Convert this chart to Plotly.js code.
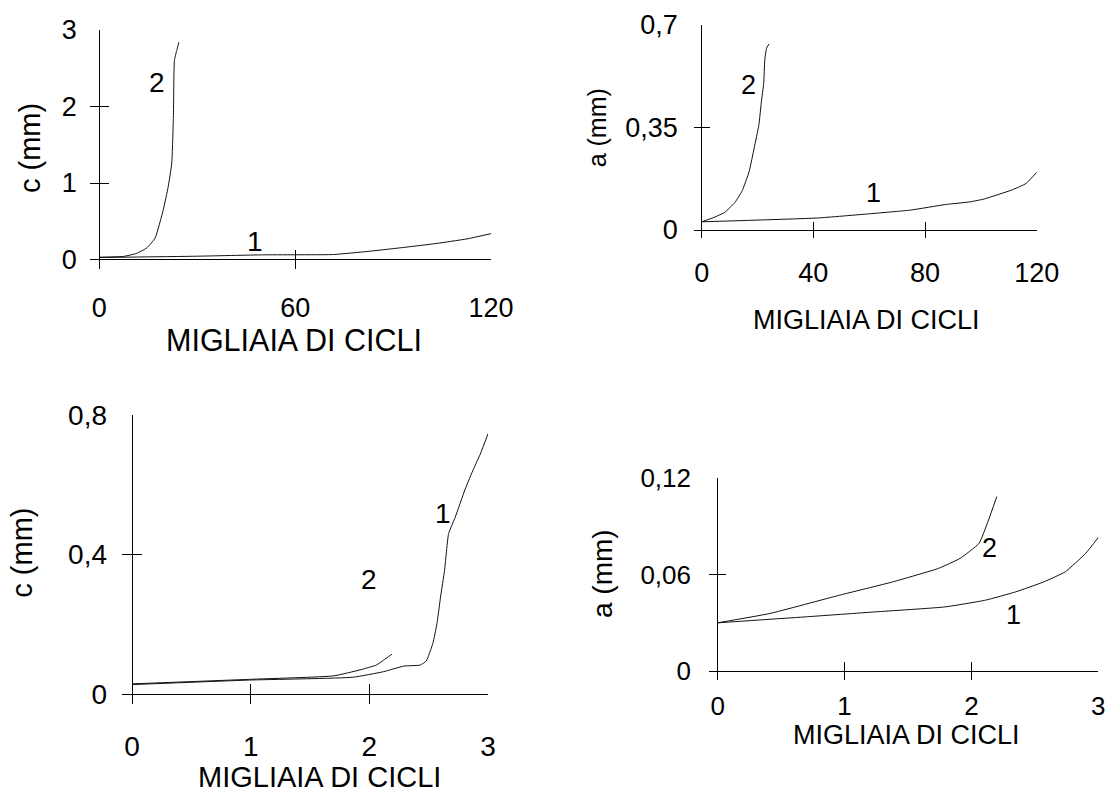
<!DOCTYPE html>
<html>
<head>
<meta charset="utf-8">
<script src="https://cdn.plot.ly/plotly-3.0.1.min.js"></script>
<style>
  html, body { margin: 0; padding: 0; background: #ffffff; }
  #chart { width: 1109px; height: 793px; }
</style>
</head>
<body>
<div id="chart"></div>
<script>
// Crack growth curves: depth c / a (mm) against thousands of cycles, specimens 1 and 2.

// Top left: c (mm), 0-120 thousand cycles
const topLeftCyclesS1 = [0, 29.8, 50.3, 71.7, 81.9, 92.1, 102.3, 112.6, 120];
const topLeftDepthS1  = [0.026, 0.043, 0.061, 0.065, 0.104, 0.152, 0.204, 0.269, 0.338];
const topLeftCyclesS2 = [0, 7.4, 11.4, 14.5, 17.1, 19.6, 21.1, 22.2, 22.7, 23.0, 23.7, 24.4];
const topLeftDepthS2  = [0.03, 0.04, 0.08, 0.15, 0.28, 0.65, 0.95, 1.26, 1.86, 2.6, 2.73, 2.84];

// Top right: a (mm), 0-120 thousand cycles
const topRightCyclesS1 = [0, 41.5, 59.7, 74.8, 87.3, 96.1, 101.2, 111.2, 116.2, 120];
const topRightDepthS1  = [0.028, 0.041, 0.055, 0.068, 0.087, 0.096, 0.106, 0.137, 0.159, 0.197];
const topRightCyclesS2 = [0, 4.4, 8.2, 11.9, 14.5, 17, 18.8, 20.5, 21.4, 22.2, 22.6, 23.2, 24.1];
const topRightDepthS2  = [0.028, 0.043, 0.06, 0.094, 0.134, 0.2, 0.28, 0.36, 0.44, 0.5, 0.58, 0.62, 0.635];

// Bottom left: c (mm), 0-3 thousand cycles
const bottomLeftCyclesS1 = [0, 0.99, 1.86, 2.12, 2.29, 2.43, 2.48, 2.535, 2.57, 2.6, 2.634, 2.668, 2.724, 2.808, 2.879, 2.935, 3.0];
const bottomLeftDepthS1  = [0.027, 0.04, 0.048, 0.064, 0.08, 0.083, 0.095, 0.145, 0.202, 0.278, 0.355, 0.46, 0.507, 0.588, 0.646, 0.688, 0.746];
const bottomLeftCyclesS2 = [0, 0.99, 1.70, 1.92, 2.06, 2.12, 2.19];
const bottomLeftDepthS2  = [0.029, 0.042, 0.052, 0.069, 0.083, 0.097, 0.114];

// Bottom right: a (mm), 0-3 thousand cycles
const bottomRightCyclesS1 = [0, 0.69, 1.24, 1.79, 2.11, 2.35, 2.57, 2.74, 2.9, 3.0];
const bottomRightDepthS1  = [0.030, 0.0337, 0.0368, 0.0399, 0.0441, 0.0493, 0.0555, 0.0618, 0.0732, 0.0832];
const bottomRightCyclesS2 = [0, 0.41, 0.96, 1.38, 1.74, 1.91, 2.06, 2.13, 2.2];
const bottomRightDepthS2  = [0.030, 0.0358, 0.0472, 0.0555, 0.0639, 0.0701, 0.0795, 0.093, 0.1086];

// Tick values of each panel
const topLeftXTicks = [0, 60, 120];
const topLeftYTicks = [0, 1, 2, 3];
const topRightXTicks = [0, 40, 80, 120];
const topRightYTicks = [0, 0.35, 0.7];
const bottomLeftXTicks = [0, 1, 2, 3];
const bottomLeftYTicks = [0, 0.4, 0.8];
const bottomRightXTicks = [0, 1, 2, 3];
const bottomRightYTicks = [0, 0.06, 0.12];

// Curve number labels: [text, cycles, depth]
const topLeftCurveLabels = [["2", 17.7, 2.32], ["1", 47.6, 0.23]];
const topRightCurveLabels = [["2", 16.7, 0.495], ["1", 61.7, 0.125]];
const bottomLeftCurveLabels = [["1", 2.62, 0.518], ["2", 2.0, 0.327]];
const bottomRightCurveLabels = [["2", 2.14, 0.0764], ["1", 2.33, 0.0349]];

const xTitle = "MIGLIAIA DI CICLI";
const yTitles = ["c (mm)", "a (mm)", "c (mm)", "a (mm)"];

// ---------------------------------------------------------------------------
const W = 1109, H = 793;
const FONT = "Liberation Sans, Arial, sans-serif";

// Each panel: origin and far ends of the axes in page pixels, half-length of
// the crossing ticks, and label/title styling.
const panels = [
  { ox: 99.3, xEnd: 491, oy: 259.5, yEnd: 30, half: 9.5, xmax: 120, ymax: 3,
    xt: topLeftXTicks, yt: topLeftYTicks, tick: 27, xsd: 20, ysd: 12,
    xTitlePos: [293.5, 340], xTitleSize: 30.5, yTitlePos: [30, 148], yTitleSize: 29,
    labels: topLeftCurveLabels, labelSize: 28,
    series: [[topLeftCyclesS1, topLeftDepthS1], [topLeftCyclesS2, topLeftDepthS2]] },
  { ox: 701.7, xEnd: 1036.7, oy: 230, yEnd: 25, half: 8, xmax: 120, ymax: 0.7,
    xt: topRightXTicks, yt: topRightYTicks, tick: 27, xsd: 16, ysd: 15,
    xTitlePos: [866, 320], xTitleSize: 27, yTitlePos: [596.6, 127.7], yTitleSize: 25,
    labels: topRightCurveLabels, labelSize: 27,
    series: [[topRightCyclesS1, topRightDepthS1], [topRightCyclesS2, topRightDepthS2]] },
  { ox: 132, xEnd: 488, oy: 694, yEnd: 415, half: 10, xmax: 3, ymax: 0.8,
    xt: bottomLeftXTicks, yt: bottomLeftYTicks, tick: 28, xsd: 23, ysd: 14,
    xTitlePos: [319, 777], xTitleSize: 29, yTitlePos: [21.7, 553], yTitleSize: 29,
    labels: bottomLeftCurveLabels, labelSize: 28,
    series: [[bottomLeftCyclesS1, bottomLeftDepthS1], [bottomLeftCyclesS2, bottomLeftDepthS2]] },
  { ox: 717.7, xEnd: 1098.3, oy: 671, yEnd: 478.3, half: 8.7, xmax: 3, ymax: 0.12,
    xt: bottomRightXTicks, yt: bottomRightYTicks, tick: 26, xsd: 8, ysd: 17,
    xTitlePos: [906.7, 735], xTitleSize: 27, yTitlePos: [602, 574], yTitleSize: 28,
    labels: bottomRightCurveLabels, labelSize: 27,
    series: [[bottomRightCyclesS1, bottomRightDepthS1], [bottomRightCyclesS2, bottomRightDepthS2]] }
];

const data = [];
const layout = {
  width: W, height: H,
  margin: { l: 0, r: 0, t: 0, b: 0, pad: 0 },
  paper_bgcolor: "#ffffff", plot_bgcolor: "#ffffff",
  separators: ",.",
  showlegend: false,
  font: { family: FONT, color: "#000000" },
  annotations: []
};

function axisBase(range, domain, tickvals, p, standoff) {
  return {
    domain: domain, range: range,
    tickmode: "array", tickvals: tickvals,
    showgrid: false, showline: false,
    zeroline: true, zerolinecolor: "#000000", zerolinewidth: 1,
    ticks: "inside", ticklen: 2 * p.half, tickwidth: 1, tickcolor: "#000000",
    tickfont: { family: FONT, size: p.tick, color: "#000000" },
    ticklabelstandoff: standoff,
    fixedrange: true
  };
}

panels.forEach((p, i) => {
  const n = i === 0 ? "" : String(i + 1);
  const xr = [-p.half * p.xmax / (p.xEnd - p.ox), p.xmax];
  const yr = [-p.half * p.ymax / (p.oy - p.yEnd), p.ymax];
  const xd = [(p.ox - p.half) / W, p.xEnd / W];
  const yd = [1 - (p.oy + p.half) / H, 1 - p.yEnd / H];

  layout["xaxis" + n] = Object.assign(axisBase(xr, xd, p.xt, p, p.xsd), { anchor: "y" + n });
  layout["yaxis" + n] = Object.assign(axisBase(yr, yd, p.yt, p, p.ysd), { anchor: "x" + n });

  p.series.forEach(s => {
    data.push({
      type: "scatter", mode: "lines",
      x: s[0], y: s[1],
      xaxis: "x" + n, yaxis: "y" + n,
      line: { color: "#111111", width: 1, shape: "spline", smoothing: 0.4 },
      hoverinfo: "skip", cliponaxis: false
    });
  });

  p.labels.forEach(l => {
    layout.annotations.push({
      xref: "x" + n, yref: "y" + n, x: l[1], y: l[2], text: l[0],
      showarrow: false, xanchor: "center", yanchor: "middle",
      font: { family: FONT, size: p.labelSize, color: "#000000" }
    });
  });

  layout.annotations.push({
    xref: "paper", yref: "paper",
    x: p.xTitlePos[0] / W, y: 1 - p.xTitlePos[1] / H,
    text: xTitle, showarrow: false, xanchor: "center", yanchor: "middle",
    font: { family: FONT, size: p.xTitleSize, color: "#000000" }
  });
  layout.annotations.push({
    xref: "paper", yref: "paper",
    x: p.yTitlePos[0] / W, y: 1 - p.yTitlePos[1] / H,
    text: yTitles[i], textangle: -90, showarrow: false, xanchor: "center", yanchor: "middle",
    font: { family: FONT, size: p.yTitleSize, color: "#000000" }
  });
});

Plotly.newPlot("chart", data, layout, { displayModeBar: false, staticPlot: true });
</script>
</body>
</html>
